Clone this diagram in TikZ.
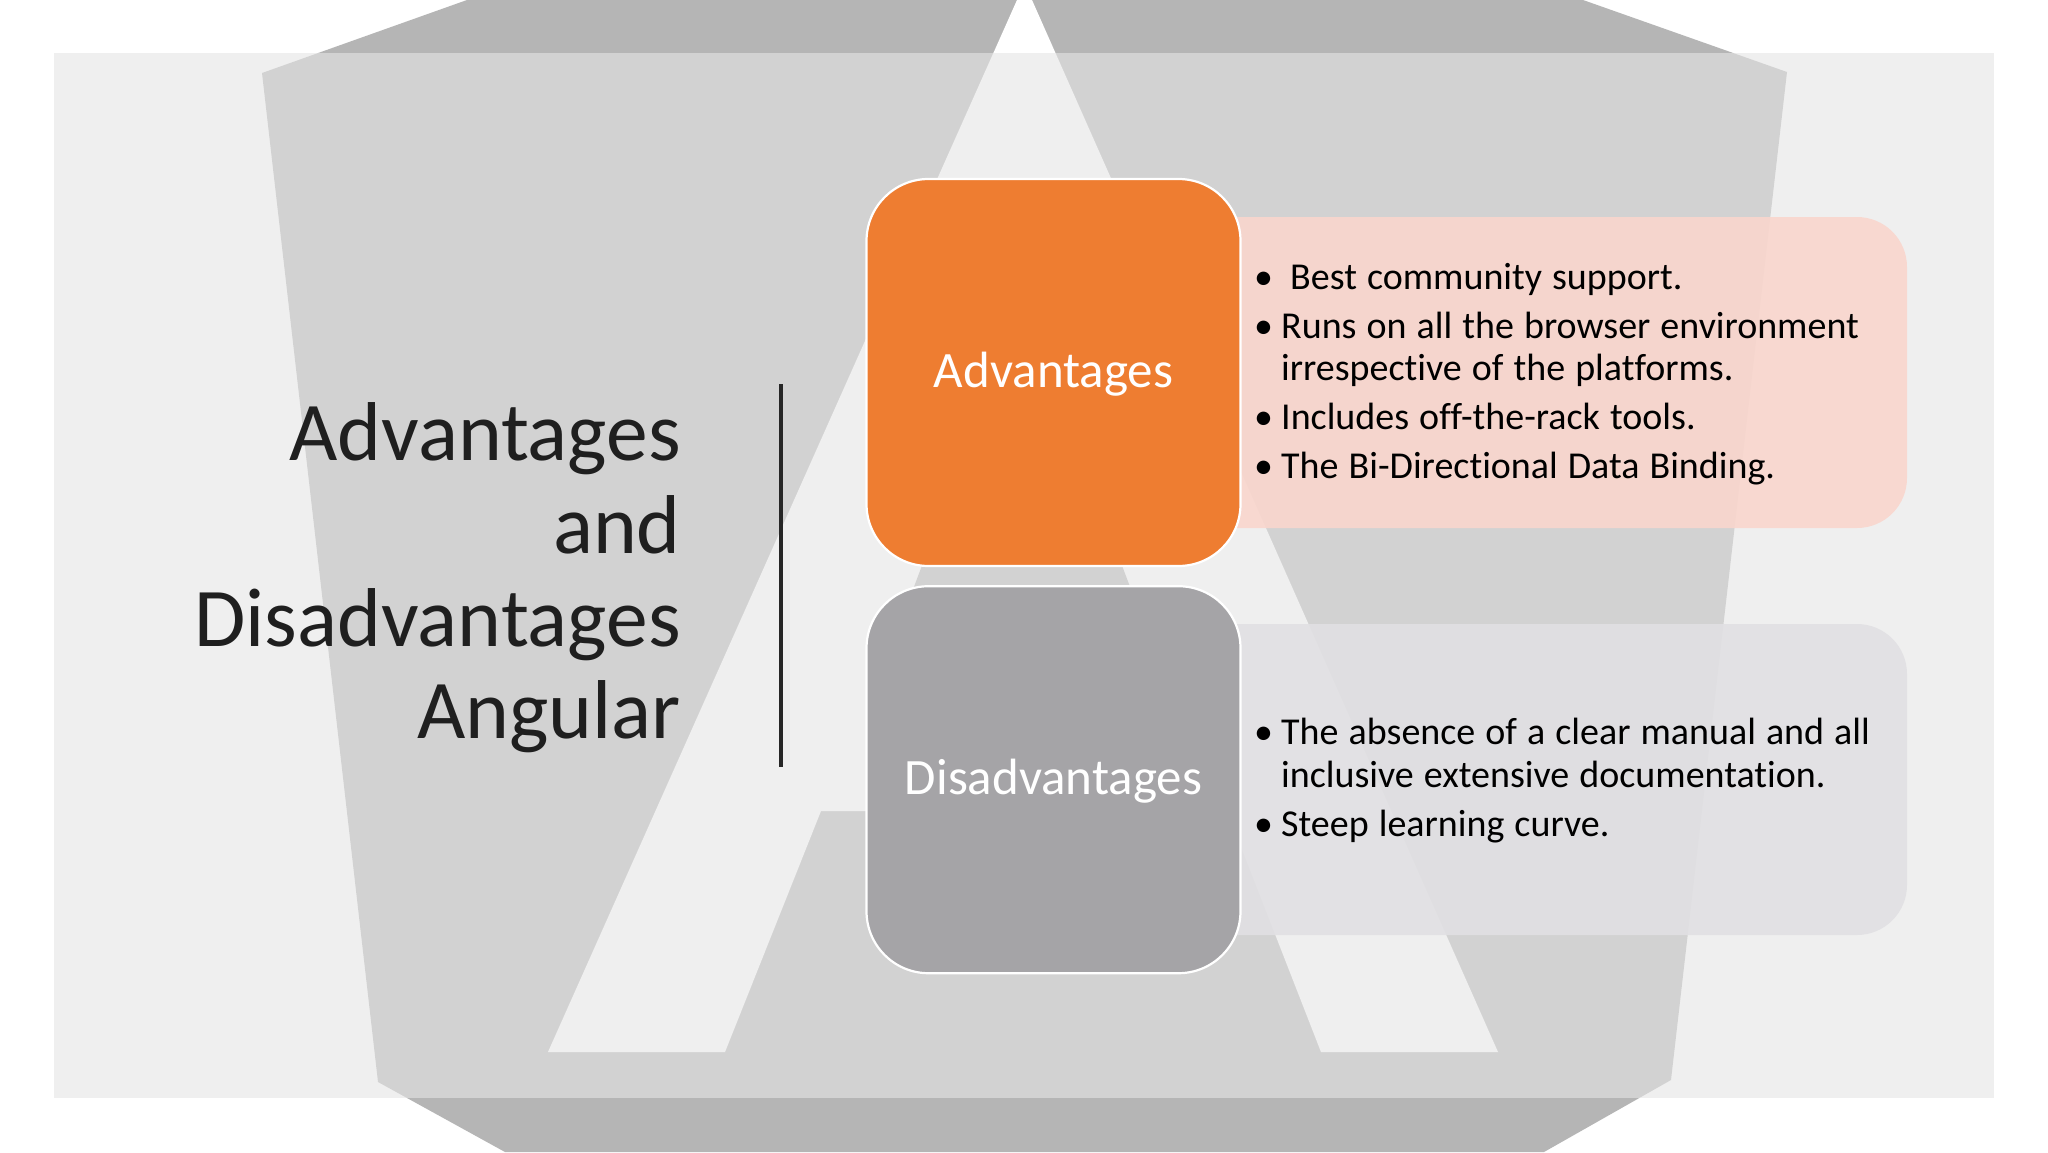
\documentclass[tikz,border=0pt]{standalone}
\usepackage{fontspec}
\setmainfont{Carlito}[Ligatures=NoCommon]
\usepackage{tikz}
\usetikzlibrary{positioning}

\definecolor{shieldgray}{HTML}{B5B5B5}
\definecolor{panelgray}{HTML}{E6E6E6}
\definecolor{advorange}{HTML}{EE7D31}
\definecolor{disgray}{HTML}{A5A4A7}
\definecolor{advlight}{HTML}{F9D6CD}
\definecolor{dislight}{HTML}{E1E0E3}

\newcommand{\listitem}[1]{\par\spaceskip=0.265em\relax\hangindent=27pt\hangafter=1\noindent\hbox to 27pt{\textbullet\hfil}#1}

\begin{document}
\begin{tikzpicture}[x=1pt, y=-1pt, node distance=18pt,
        headbox/.style={rectangle, draw=white, line width=2.2pt, rounded corners=62pt, minimum width=374pt, minimum height=387pt, text=white, font=\fontsize{51}{60}\selectfont, align=center, text height=30pt, text depth=0pt},
        listtext/.style={text width=627pt, inner sep=0pt, anchor=west, align=left, font=\fontsize{38}{42.4}\selectfont, text=black}]

    \useasboundingbox (0,0) rectangle (2048,1152);
    \fill [white] (0,0) rectangle (2048,1152);

    % logo behind the panel
    \fill [shieldgray] (262,73) -- (467,0) -- (1583,0) -- (1787,72) -- (1671,1080) -- (1544,1152) -- (505,1152) -- (378,1082) -- cycle;
    \fill [white] (1017,0) -- (1032,0) -- (1498,1052) -- (1321,1052) -- (1227,811) -- (821,811) -- (725,1052) -- (548,1052) -- cycle;
    \fill [shieldgray] (1022,300) -- (1135,600) -- (909,600) -- cycle;
    \fill [panelgray, fill opacity=0.61] (54,53) rectangle (1994,1098);

    % title
    \node (title) [anchor=east, align=right, inner sep=0pt, font=\fontsize{83.5}{92.7}\selectfont, text=black!88] at (681,578) {Advantages\\and\\Disadvantages\\Angular};
    \coordinate (ruletop) at (781,384);
    \coordinate (rulebot) at (781,767);
    \draw [line width=3.4pt, black!85] (ruletop) -- (rulebot);

    % content
    \fill [advlight, fill opacity=0.9] (1236,217) [rounded corners=50pt] -- (1907,217) -- (1907,528) -- (1500,528) [sharp corners] -- (1236,528) -- cycle;
    \fill [dislight, fill opacity=0.9] (1236,624) [rounded corners=50pt] -- (1907,624) -- (1907,935) -- (1500,935) [sharp corners] -- (1236,935) -- cycle;
    \node (adv) [headbox, fill=advorange] at (1053.5,372.5) {Advantages};
    \node (dis) [headbox, fill=disgray, below=of adv] {Disadvantages};

    \node (advlist) [listtext] at (1254,366) {%
        \listitem{\hspace{9pt}Best community support.}
        \vspace{6.6pt}\listitem{Runs on all the browser environment irrespective of the platforms.}
        \vspace{6.6pt}\listitem{Includes off-the-rack tools.}
        \vspace{6.6pt}\listitem{The Bi-Directional Data Binding.}};
    \node (dislist) [listtext] at (1254,772.5) {%
        \listitem{The absence of a clear manual and all inclusive extensive documentation.}
        \vspace{6.6pt}\listitem{Steep learning curve.}};
\end{tikzpicture}
\end{document}
